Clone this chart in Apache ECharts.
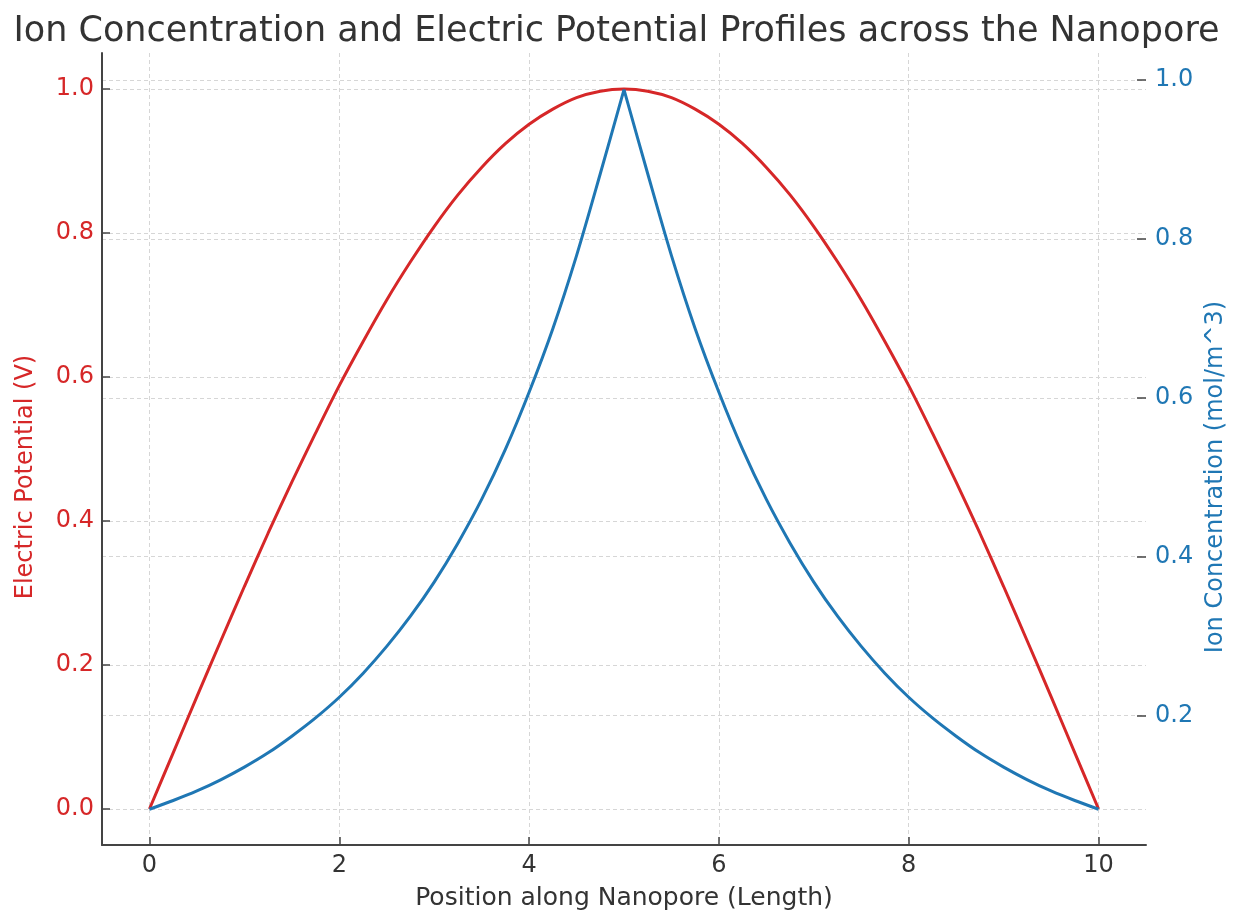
<!DOCTYPE html>
<html>
<head>
<meta charset="utf-8">
<title>Nanopore profiles</title>
<script src="https://cdn.jsdelivr.net/npm/echarts@6.0.0/dist/echarts.min.js"></script>
<style>
    html, body { margin: 0; padding: 0; background: #fff; }
    #profile-chart { width: 1233px; height: 912px; }
</style>
</head>
<body>
<div id="profile-chart"></div>
<script>
// positions along the pore (read every 0.25)
var positions = [0, 0.25, 0.5, 0.75, 1, 1.25, 1.5, 1.75, 2, 2.25, 2.5, 2.75, 3, 3.25, 3.5, 3.75, 4, 4.25, 4.5, 4.75,
    5, 5.25, 5.5, 5.75, 6, 6.25, 6.5, 6.75, 7, 7.25, 7.5, 7.75, 8, 8.25, 8.5, 8.75, 9, 9.25, 9.5, 9.75, 10];

// electric potential (V), left axis
var potentialValues = [0, 0.078, 0.156, 0.233, 0.309, 0.383, 0.454, 0.522, 0.588, 0.649, 0.707, 0.760, 0.809, 0.853, 0.891, 0.924, 0.951, 0.972, 0.988, 0.997,
    1.0, 0.997, 0.988, 0.972, 0.951, 0.924, 0.891, 0.853, 0.809, 0.760, 0.707, 0.649, 0.588, 0.522, 0.454, 0.383, 0.309, 0.233, 0.156, 0.078, 0];

// ion concentration (mol/m^3), right axis
var concentrationValues = [0.082, 0.093, 0.105, 0.119, 0.135, 0.153, 0.174, 0.197, 0.223, 0.253, 0.287, 0.325, 0.368, 0.417, 0.472, 0.535, 0.607, 0.687, 0.779, 0.882,
    0.988, 0.882, 0.779, 0.687, 0.607, 0.535, 0.472, 0.417, 0.368, 0.325, 0.287, 0.253, 0.223, 0.197, 0.174, 0.153, 0.135, 0.119, 0.105, 0.093, 0.082];

var xTicks = [0, 2, 4, 6, 8, 10];
var potentialTicks = [0, 0.2, 0.4, 0.6, 0.8, 1.0];
var concentrationTicks = [0.2, 0.4, 0.6, 0.8, 1.0];

var RED = '#d62728';
var BLUE = '#1f77b4';
var FONT = 'DejaVu Sans';

var profileChart = echarts.init(document.getElementById('profile-chart'), null, {renderer: 'canvas'});

function pairs(xs, ys, from, to) {
    var out = [];
    for (var i = from; i <= to; i++) {
        out.push([xs[i], ys[i]]);
    }
    return out;
}

// the concentration curve has a sharp peak: smooth each side on its own
var peakIndex = positions.indexOf(5);
var last = positions.length - 1;

var gridLine = {show: true, lineStyle: {color: '#d6d6d6', width: 1, type: [4, 3]}};
var tickStyle = {color: '#444', width: 1.5};

profileChart.setOption({
    animation: false,
    backgroundColor: '#fff',
    textStyle: {fontFamily: FONT},
    title: {
        text: 'Ion Concentration and Electric Potential Profiles across the Nanopore',
        left: 'center',
        top: 9,
        textStyle: {fontFamily: FONT, fontSize: 35, fontWeight: 'normal', color: '#333'}
    },
    grid: {left: 102, right: 87, top: 53, bottom: 67, containLabel: false, outerBoundsMode: 'none'},
    xAxis: {
        type: 'value',
        min: -0.5,
        max: 10.5,
        name: 'Position along Nanopore (Length)',
        nameLocation: 'middle',
        nameGap: 41,
        nameTextStyle: {fontFamily: FONT, fontSize: 25, color: '#333'},
        axisLine: {show: true, onZero: false, lineStyle: {color: '#444', width: 2}},
        axisTick: {show: true, inside: true, length: 8, customValues: xTicks, lineStyle: tickStyle},
        axisLabel: {customValues: xTicks, margin: 9, fontSize: 24, color: '#333', fontFamily: FONT},
        splitLine: gridLine
    },
    yAxis: [{
        type: 'value',
        position: 'left',
        min: -0.05,
        max: 1.05,
        name: 'Electric Potential (V)',
        nameLocation: 'middle',
        nameGap: 64,
        nameRotate: 90,
        nameTextStyle: {fontFamily: FONT, fontSize: 24, color: RED, padding: [0, 56, 0, 0]},
        axisLine: {show: true, onZero: false, lineStyle: {color: '#444', width: 2}},
        axisTick: {show: true, inside: true, length: 8, customValues: potentialTicks, lineStyle: tickStyle},
        axisLabel: {
            customValues: potentialTicks, margin: 8, fontSize: 24, color: RED, fontFamily: FONT,
            formatter: function(v) { return v.toFixed(1); }
        },
        splitLine: gridLine
    }, {
        type: 'value',
        position: 'right',
        min: 0.037,
        max: 1.034,
        name: 'Ion Concentration (mol/m^3)',
        nameLocation: 'middle',
        nameGap: 56,
        nameRotate: 90,
        nameTextStyle: {fontFamily: FONT, fontSize: 24, color: BLUE, padding: [0, 56, 0, 0]},
        axisLine: {show: true, onZero: false, lineStyle: {color: 'rgba(0,0,0,0)', width: 0}},
        axisTick: {show: true, inside: true, length: 9, customValues: concentrationTicks, lineStyle: tickStyle},
        axisLabel: {
            customValues: concentrationTicks, margin: 9, fontSize: 24, color: BLUE, fontFamily: FONT,
            formatter: function(v) { return v.toFixed(1); }
        },
        splitLine: gridLine
    }],
    series: [{
        name: 'Electric Potential',
        type: 'line',
        yAxisIndex: 0,
        showSymbol: false,
        symbol: 'none',
        smooth: 0.3,
        lineStyle: {color: RED, width: 3},
        data: pairs(positions, potentialValues, 0, last),
        z: 3
    }, {
        name: 'Ion Concentration',
        type: 'line',
        yAxisIndex: 1,
        showSymbol: false,
        symbol: 'none',
        smooth: 0.3,
        lineStyle: {color: BLUE, width: 3},
        data: pairs(positions, concentrationValues, 0, peakIndex),
        z: 4
    }, {
        name: 'Ion Concentration',
        type: 'line',
        yAxisIndex: 1,
        showSymbol: false,
        symbol: 'none',
        smooth: 0.3,
        lineStyle: {color: BLUE, width: 3},
        data: pairs(positions, concentrationValues, peakIndex, last),
        z: 4
    }]
});
</script>
</body>
</html>
